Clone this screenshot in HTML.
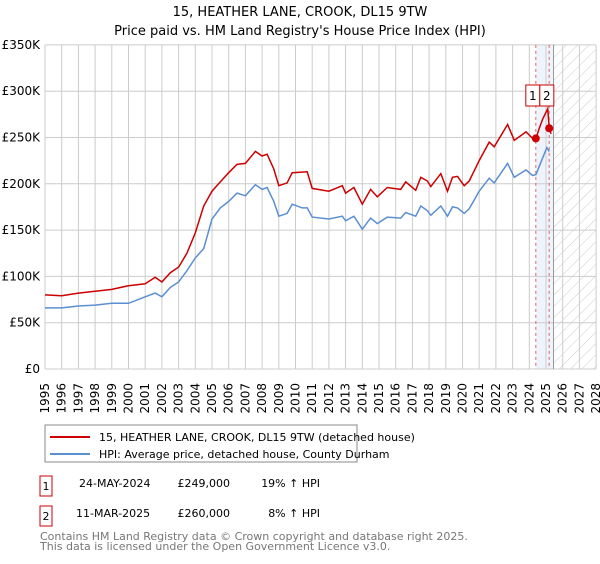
<!DOCTYPE html>
<html><head><meta charset="utf-8"><style>
body{margin:0;background:#fff;font-family:"DejaVu Sans","Liberation Sans",sans-serif;}
svg text{font-family:"DejaVu Sans","Liberation Sans",sans-serif;}
</style></head><body>
<svg id="c" width="600" height="560" xmlns="http://www.w3.org/2000/svg">
<defs><pattern id="h" width="8" height="8" patternUnits="userSpaceOnUse" patternTransform="rotate(45)"><line x1="0" y1="0" x2="0" y2="8" stroke="#ccc" stroke-width="1"/></pattern></defs>
<text x="300" y="16" text-anchor="middle" font-size="13">15, HEATHER LANE, CROOK, DL15 9TW</text>
<text x="300" y="35" text-anchor="middle" font-size="13">Price paid vs. HM Land Registry's House Price Index (HPI)</text>
<g id="grid"></g><g id="marks"></g><g id="axes"></g>
<rect x="45" y="425" width="312" height="37" fill="#fff" stroke="#888"/>
<line x1="50" y1="437" x2="90" y2="437" stroke="#cc0000" stroke-width="2"/>
<text x="99" y="441" font-size="11">15, HEATHER LANE, CROOK, DL15 9TW (detached house)</text>
<line x1="50" y1="454" x2="90" y2="454" stroke="#5b8fd1" stroke-width="2"/>
<text x="99" y="458" font-size="11">HPI: Average price, detached house, County Durham</text>
<rect x="40" y="476" width="12" height="20" fill="none" stroke="#cc0000"/>
<text x="46" y="490" font-size="11" text-anchor="middle">1</text>
<text x="79" y="487" font-size="11">24-MAY-2024</text>
<text x="230" y="487" font-size="11" text-anchor="end">£249,000</text>
<text x="320" y="487" font-size="11" text-anchor="end">19% ↑ HPI</text>
<rect x="40" y="506" width="12" height="20" fill="none" stroke="#cc0000"/>
<text x="46" y="520" font-size="11" text-anchor="middle">2</text>
<text x="76" y="517" font-size="11">11-MAR-2025</text>
<text x="230" y="517" font-size="11" text-anchor="end">£260,000</text>
<text x="320" y="517" font-size="11" text-anchor="end">8% ↑ HPI</text>
<text x="40" y="540" font-size="11" fill="#777">Contains HM Land Registry data © Crown copyright and database right 2025.</text>
<text x="40" y="550" font-size="11" fill="#777">This data is licensed under the Open Government Licence v3.0.</text>
</svg>
<script>
const hpiYears=[1995,1996,1997,1998,1999,2000,2001,2001.6,2002,2002.5,2003,2003.5,2004,2004.5,2005,2005.5,2006,2006.5,2007,2007.6,2008,2008.3,2008.7,2009,2009.5,2009.8,2010.4,2010.7,2011,2012,2012.8,2013,2013.5,2014,2014.5,2014.9,2015.5,2016.3,2016.6,2017.2,2017.5,2017.9,2018.1,2018.7,2019.1,2019.4,2019.7,2020.1,2020.4,2021,2021.6,2021.9,2022.7,2023.1,2023.8,2024.2,2024.4,2024.6,2025.05,2025.2];
const hpiValues=[66,66,68,69,71,71,78,82,78,88,94,106,120,130,162,174,181,190,187,199,194,196,181,165,168,178,174,174,164,162,165,160,165,151,163,157,164,163,169,165,176,171,166,176,165,175,174,168,173,192,206,201,222,207,215,209,210,219,239,235];
const ppYears=[1995,1996,1997,1998,1999,2000,2001,2001.6,2002,2002.5,2003,2003.5,2004,2004.5,2005,2005.5,2006,2006.5,2007,2007.6,2008,2008.3,2008.7,2009,2009.5,2009.8,2010.7,2011,2012,2012.8,2013,2013.5,2014,2014.5,2014.9,2015.5,2016.3,2016.6,2017.2,2017.5,2017.9,2018.1,2018.7,2019.1,2019.4,2019.7,2020.1,2020.4,2021,2021.6,2021.9,2022.7,2023.1,2023.8,2024.2,2024.4,2024.6,2024.8,2025.1,2025.2,2025.3];
const ppValues=[80,79,82,84,86,90,92,99,94,104,110,125,147,176,192,202,212,221,222,235,230,232,216,198,201,212,213,195,192,198,190,196,178,194,186,196,194,202,193,207,203,197,211,192,207,208,198,203,225,245,240,264,247,256,249,249,260,270,281,260,254];
const saleYears=[2024.39,2025.19];
const saleValues=[249,260];
const yTicks=[0,50,100,150,200,250,300,350];
const yLabels=["£0","£50K","£100K","£150K","£200K","£250K","£300K","£350K"];
const xTicks=[];for(let y=1995;y<=2028;y++)xTicks.push(y);
const X=y=>45+(y-1995)*16.7, Y=v=>369-v*0.926;
const NS="http://www.w3.org/2000/svg";
function mk(t,a,p){const e=document.createElementNS(NS,t);for(const k in a)e.setAttribute(k,a[k]);p.appendChild(e);return e;}
const g=document.getElementById('grid'),m=document.getElementById('marks'),ax=document.getElementById('axes');
const band=mk('rect',{x:X(2024.39),y:Y(350),width:X(2025.45)-X(2024.39),height:Y(0)-Y(350),fill:'#eef3fc'},g);


yTicks.forEach((v,i)=>{mk('line',{x1:45,x2:X(2028),y1:Y(v),y2:Y(v),stroke:'#ccc'},g);
const t=mk('text',{x:40,y:Y(v)+4,'text-anchor':'end','font-size':12},ax);t.textContent=yLabels[i];

});
xTicks.forEach(y=>{mk('line',{x1:X(y),x2:X(y),y1:Y(350),y2:Y(0),stroke:'#ccc'},g);
const t=mk('text',{x:0,y:0,'text-anchor':'end','font-size':12,transform:`translate(${X(y)+4},383) rotate(-90)`},ax);t.textContent=y;

});
const hat=mk('rect',{x:X(2025.45),y:Y(350),width:X(2028)-X(2025.45),height:Y(0)-Y(350),fill:'url(#h)'},g);


mk('line',{x1:X(2025.45),x2:X(2025.45),y1:Y(350),y2:Y(0),stroke:'#999'},g);
saleYears.forEach(y=>mk('line',{x1:X(y),x2:X(y),y1:Y(350),y2:Y(0),stroke:'#e06666','stroke-dasharray':'3,3'},g));
const pts=(xs,vs)=>xs.map((y,i)=>X(y).toFixed(1)+','+Y(vs[i]).toFixed(1)).join(' ');
const hl=mk('polyline',{points:pts(hpiYears,hpiValues),fill:'none',stroke:'#5b8fd1','stroke-width':1.5},m);


const pl=mk('polyline',{points:pts(ppYears,ppValues),fill:'none',stroke:'#cc0000','stroke-width':1.5},m);


saleYears.forEach((y,i)=>{const c=mk('circle',{cx:X(y),cy:Y(saleValues[i]),r:4,fill:'#cc0000'},m);


const bx=X(saleYears[0])-10+i*14;
const r=mk('rect',{x:bx,y:85,width:14,height:21,fill:'#fff',stroke:'#cc0000'},m);


const t=mk('text',{x:bx+7,y:100,'text-anchor':'middle','font-size':12},m);t.textContent=i+1;});
</script>
</body></html>
